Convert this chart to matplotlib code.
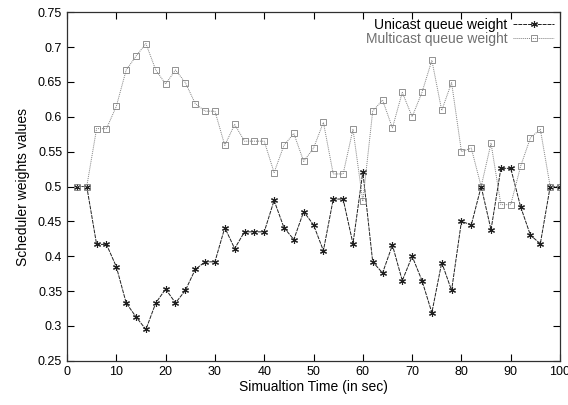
import numpy as np
import matplotlib
matplotlib.use("Agg")
from matplotlib import pyplot as plt

plt.rcParams["font.family"] = ["Liberation Sans", "DejaVu Sans"]

# データ
time = [2, 4, 6, 8, 10, 12, 14, 16, 18, 20, 22, 24, 26, 28, 30, 32, 34, 36, 38, 40,
        42, 44, 46, 48, 50, 52, 54, 56, 58, 60, 62, 64, 66, 68, 70, 72, 74, 76, 78, 80,
        82, 84, 86, 88, 90, 92, 94, 96, 98, 100]
unicast = [0.5, 0.5, 0.417, 0.417, 0.385, 0.333, 0.313, 0.295, 0.333, 0.353,
           0.333, 0.351, 0.381, 0.392, 0.392, 0.441, 0.411, 0.435, 0.435, 0.435,
           0.48, 0.441, 0.424, 0.464, 0.445, 0.408, 0.482, 0.482, 0.418, 0.521,
           0.392, 0.376, 0.416, 0.365, 0.4, 0.365, 0.319, 0.391, 0.351, 0.45,
           0.445, 0.5, 0.438, 0.526, 0.526, 0.471, 0.43, 0.418, 0.5, 0.5]
multicast = [0.5, 0.5, 0.583, 0.583, 0.615, 0.667, 0.687, 0.705, 0.667, 0.647,
             0.667, 0.649, 0.619, 0.608, 0.608, 0.559, 0.589, 0.565, 0.565, 0.565,
             0.52, 0.559, 0.576, 0.536, 0.555, 0.592, 0.518, 0.518, 0.582, 0.479,
             0.608, 0.624, 0.584, 0.635, 0.6, 0.635, 0.681, 0.609, 0.649, 0.55,
             0.555, 0.5, 0.562, 0.474, 0.474, 0.529, 0.57, 0.582, 0.5, 0.5]

fig = plt.figure(figsize=(5.68, 4.05), dpi=100)
ax = fig.add_axes([0.118, 0.109, 0.868, 0.861])

ax.plot(time, unicast, color="#202020", linewidth=0.7, linestyle=(0, (4, 1)),
        marker=(6, 2, 0), markersize=5, markeredgewidth=0.8,
        label="Unicast queue weight")
ax.plot(time, multicast, color="#808080", linewidth=0.7, linestyle=(0, (1, 1)),
        marker="s", markersize=4, markerfacecolor="none", markeredgewidth=0.6,
        label="Multicast queue weight")

ax.set_xlim(0, 100)
ax.set_ylim(0.25, 0.75)
ax.set_xticks(np.arange(0, 101, 10))
ax.set_yticks(np.arange(0.25, 0.76, 0.05))
ax.set_yticklabels(["0.25", "0.3", "0.35", "0.4", "0.45", "0.5", "0.55",
                    "0.6", "0.65", "0.7", "0.75"])
ax.tick_params(direction="in", top=True, right=True, labelsize=9, length=5, width=0.8)
for s in ax.spines.values():
    s.set_linewidth(0.9)
    s.set_color("#303030")

ax.set_xlabel("Simualtion Time (in sec)", fontsize=10, labelpad=2)
ax.set_ylabel("Scheduler weights values", fontsize=10, labelpad=6)

leg = ax.legend(loc="upper right", frameon=False, markerfirst=False, fontsize=10,
                handlelength=3, borderaxespad=0.0, labelspacing=0.0, handletextpad=0.4)
leg.get_texts()[1].set_color("#707070")

plt.savefig("out.png", dpi=100)
